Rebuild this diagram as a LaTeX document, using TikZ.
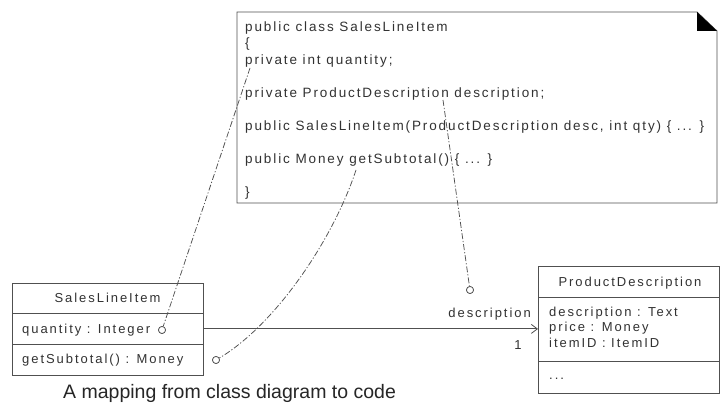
\documentclass[tikz,border=0pt]{standalone}
\usepackage{fontspec}
\setmainfont{Liberation Sans}
\newfontfamily\codefont[LetterSpace=14]{Liberation Sans}
\newfontfamily\umlfont[LetterSpace=15]{Liberation Sans}
\usetikzlibrary{arrows.meta}
\definecolor{linec}{RGB}{80,80,80}
\definecolor{textc}{RGB}{50,50,50}
\begin{document}
\begin{tikzpicture}[x=1pt,y=-1pt,
  codetext/.style={font=\codefont\fontsize{13.5}{16}\selectfont, text=textc, anchor=base west, inner sep=0pt},
  umltext/.style={font=\umlfont\fontsize{13}{15}\selectfont, text=textc, inner sep=0pt},
  boxline/.style={draw=linec, line width=0.8pt},
  compart/.style={boxline, fill=white, anchor=north west, inner sep=0pt},
  link/.style={draw=linec, line width=0.75pt, dash pattern=on 6pt off 2pt on 1.2pt off 2pt},
  endcirc/.style={circle, draw=linec, fill=white, line width=0.7pt, minimum size=7pt, inner sep=0pt}]
\useasboundingbox (0,0) rectangle (724,406);
\fill[white] (0,0) rectangle (724,406);

% note with folded corner
\draw[boxline, fill=white] (237,12) -- (697,12) -- (717,31) -- (717,203) -- (237,203) -- cycle;
\fill[black] (697,12) -- (697,31) -- (717,31) -- cycle;
\node[codetext] (c1) at (245,31.5) {public class SalesLineItem};
\node[codetext] (c2) at (245,48) {\{};
\node[codetext] (c3) at (245,64.5) {private int quantity;};
\node[codetext] (c4) at (245,97.5) {private ProductDescription description;};
\node[codetext] (c5) at (245,130.5) {public SalesLineItem(ProductDescription desc, int qty) \{ ... \}};
\node[codetext] (c6) at (245,163.5) {public Money getSubtotal() \{ ... \}};
\node[codetext] (c7) at (245,196.5) {\}};

% class SalesLineItem
\node[compart, minimum width=191pt, minimum height=30pt] (slHead) at (12,283) {};
\node[compart, minimum width=191pt, minimum height=31pt] (slAttr) at (12,313) {};
\node[compart, minimum width=191pt, minimum height=31pt] (slOps) at (12,344) {};
\node[umltext, anchor=base] (slName) at (107.5,303) {SalesLineItem};
\node[umltext, anchor=base west] (slA1) at (22,334) {quantity : Integer};
\node[umltext, anchor=base west] (slO1) at (22,364) {getSubtotal() : Money};

% class ProductDescription
\node[compart, minimum width=181pt, minimum height=31pt] (pdHead) at (538,266) {};
\node[compart, minimum width=181pt, minimum height=64pt] (pdAttr) at (538,297) {};
\node[compart, minimum width=181pt, minimum height=32pt] (pdOps) at (538,361) {};
\node[umltext, anchor=base] (pdName) at (630,287) {ProductDescription};
\node[umltext, anchor=base west] (pdA1) at (549,317) {description : Text};
\node[umltext, anchor=base west] (pdA2) at (549,332) {price : Money};
\node[umltext, anchor=base west] (pdA3) at (549,348) {itemID : ItemID};
\node[umltext, anchor=base west] (pdO1) at (549,380) {...};

% association
\draw[boxline, -{Straight Barb[length=6pt,width=9pt]}] (slAttr.east) -- (slAttr.east -| pdAttr.west);
\node[umltext, anchor=base east] (roleName) at (531,318) {description};
\node[umltext, anchor=base] (mult) at (518,350) {1};

% mapping connectors
\node[endcirc] (qc) at (162,330) {};
\node[endcirc] (gc) at (216,360) {};
\node[endcirc] (dc) at (470,290) {};
\coordinate (qStart) at (250,68);
\coordinate (gStart) at (356,170);
\coordinate (dStart) at (443,100);
\draw[link] (qStart) -- (qc);
\draw[link] (gStart) .. controls (333,240) and (275,325) .. (gc);
\draw[link] (dStart) -- (dc);
\node[endcirc] at (qc) {};
\node[endcirc] at (gc) {};
\node[endcirc] at (dc) {};

% caption
\node[font=\fontsize{19.5}{22}\selectfont, anchor=base west, inner sep=0pt, text=black!85] (cap) at (63,399) {A mapping from class diagram to code};
\end{tikzpicture}
\end{document}
